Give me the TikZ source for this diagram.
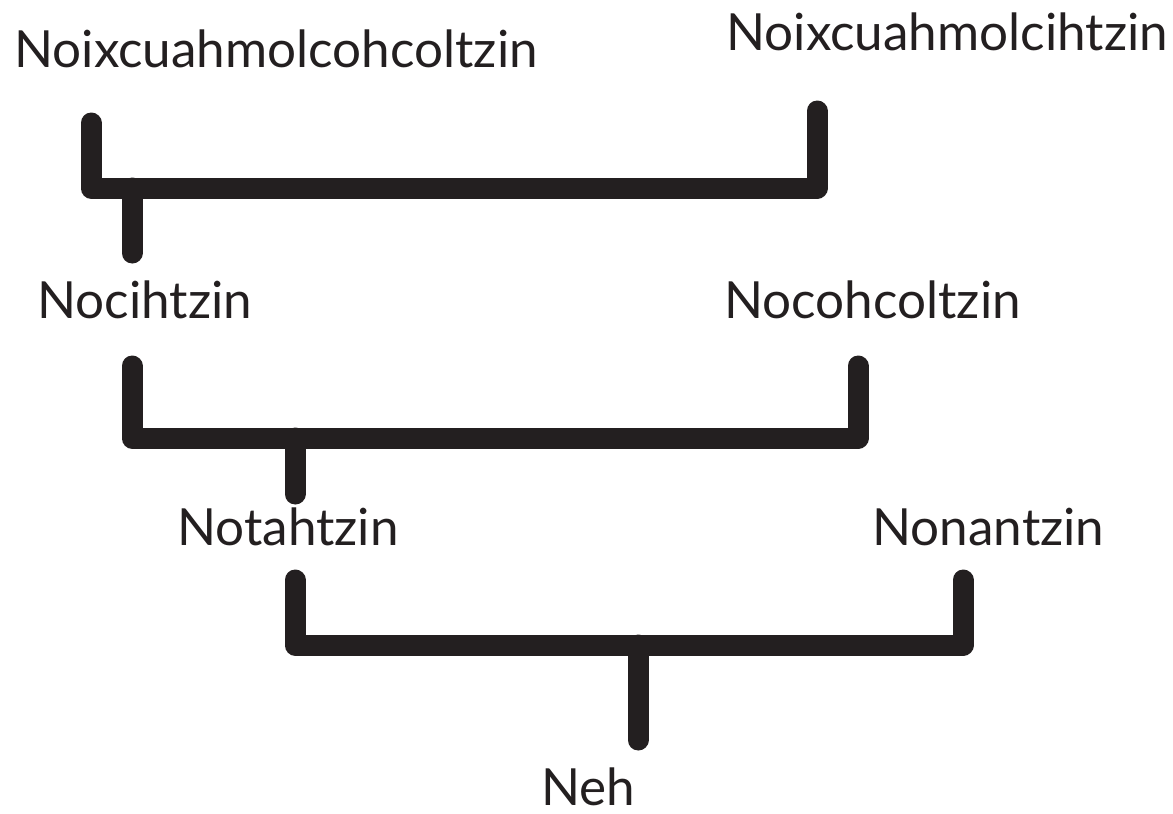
\documentclass[tikz,border=0pt]{standalone}
\usepackage{fontspec}
\setmainfont{Lato}
\usetikzlibrary{positioning, calc}
\definecolor{inkdark}{RGB}{35,31,32}

\begin{document}
\begin{tikzpicture}[
      x=0.5pt, y=-0.5pt,
      kin/.style={inner sep=0pt, anchor=base west, text=inkdark,
                  font=\fontsize{25.6}{30}\selectfont},
      link/.style={line width=10.5pt, line cap=round, line join=round, draw=inkdark}
  ]
    \useasboundingbox (0,0) rectangle (1173,814);

    % Names
    \node[kin] (ggpa) at (14,67)  {Noixcuahmolcohcoltzin};
    \node[kin] (ggma) at (726,50) {Noixcuahmolcihtzin};
    \node[kin] (gma)  at (37,318) {Nocihtzin};
    \node[kin] (gpa)  at (724,318) {Nocohcoltzin};
    \node[kin] (dad)  at (177,545) {Notahtzin};
    \node[kin] (mom)  at (872,545) {Nonantzin};
    \node[kin] (me)   at (541,805) {Neh};

    % Bracket ends
    \coordinate (b1l) at (91,123);  \coordinate (b1r) at (817,111);
    \coordinate (b1h) at (0,188);   \coordinate (b1s) at (132,253);
    \coordinate (b2l) at (132,366); \coordinate (b2r) at (858,366);
    \coordinate (b2h) at (0,438);   \coordinate (b2s) at (295,494);
    \coordinate (b3l) at (295,580); \coordinate (b3r) at (963,580);
    \coordinate (b3h) at (0,645);   \coordinate (b3s) at (638,740);

    \draw[link] (b1l) -- (b1l |- b1h) -- (b1r |- b1h) -- (b1r);
    \draw[link] (b1s |- b1h) -- (b1s);
    \draw[link] (b2l) -- (b2l |- b2h) -- (b2r |- b2h) -- (b2r);
    \draw[link] (b2s |- b2h) -- (b2s);
    \draw[link] (b3l) -- (b3l |- b3h) -- (b3r |- b3h) -- (b3r);
    \draw[link] (b3s |- b3h) -- (b3s);
  \end{tikzpicture}
\end{document}
